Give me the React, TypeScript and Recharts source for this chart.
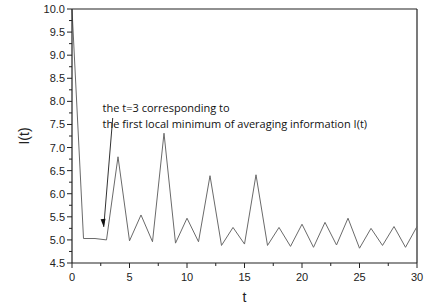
import React from 'react';
import { LineChart, Line, XAxis, YAxis, ReferenceLine, ReferenceDot, Label } from 'recharts';

const tValues = [0, 1, 2, 3, 4, 5, 6, 7, 8, 9, 10, 11, 12, 13, 14, 15, 16, 17, 18, 19, 20, 21, 22, 23, 24, 25, 26, 27, 28, 29, 30];
const iValues = [10.0, 5.03, 5.03, 5.0, 6.8, 4.98, 5.54, 4.96, 7.31, 4.93, 5.47, 4.96, 6.39, 4.88, 5.27, 4.91, 6.41, 4.88, 5.27, 4.86, 5.34, 4.84, 5.38, 4.89, 5.47, 4.82, 5.25, 4.88, 5.29, 4.84, 5.29];
const xMajorTicks = [0, 5, 10, 15, 20, 25, 30];
const xAllTicks = [0, 2.5, 5, 7.5, 10, 12.5, 15, 17.5, 20, 22.5, 25, 27.5, 30];
const yMajorTicks = [4.5, 5.0, 5.5, 6.0, 6.5, 7.0, 7.5, 8.0, 8.5, 9.0, 9.5, 10.0];
const yAllTicks = [4.5, 4.75, 5.0, 5.25, 5.5, 5.75, 6.0, 6.25, 6.5, 6.75, 7.0, 7.25, 7.5, 7.75, 8.0, 8.25, 8.5, 8.75, 9.0, 9.25, 9.5, 9.75, 10.0];
const annotationLines = ['the t=3 corresponding to', 'the first local minimum of averaging information I(t)'];
const arrowStart = { t: 3.54, v: 7.64 };
const arrowEnd = { t: 2.76, v: 5.28 };
const textAnchor = { t: 2.66, v: 7.77 };

const data = tValues.map((t, i) => ({ t, v: iValues[i] }));

const AXIS = '#222';
const tickFont = { fontFamily: '"Liberation Sans", Arial, sans-serif', fontSize: 11, fill: '#222' };

const isMajor = (arr: number[], v: number) => arr.some((m) => Math.abs(m - v) < 1e-6);

const YTick = (props: any) => {
  const { x, y, payload } = props;
  const major = isMajor(yMajorTicks, payload.value);
  return (
    <g>
      <line x1={x} x2={x - (major ? 5 : 3)} y1={y} y2={y} stroke={AXIS} strokeWidth={1} />
      {major && (
        <text x={x - 7} y={y + 4} textAnchor="end" {...tickFont}>
          {payload.value.toFixed(1)}
        </text>
      )}
    </g>
  );
};

const XTick = (props: any) => {
  const { x, y, payload } = props;
  const major = isMajor(xMajorTicks, payload.value);
  return (
    <g>
      <line x1={x} x2={x} y1={y} y2={y + (major ? 5 : 3)} stroke={AXIS} strokeWidth={1} />
      {major && (
        <text x={x} y={y + 18} textAnchor="middle" {...tickFont}>
          {payload.value}
        </text>
      )}
    </g>
  );
};

const AnnotationText = (props: any) => {
  const { cx, cy } = props;
  return (
    <text x={cx} y={cy} fontFamily='"Open Sans", sans-serif' fontSize={11} fill="#111">
      {annotationLines.map((l, i) => (
        <tspan key={i} x={cx} dy={i === 0 ? 0 : 16}>
          {l}
        </tspan>
      ))}
    </text>
  );
};

const ArrowHead = (props: any) => {
  const { cx, cy } = props;
  const dx = -9, dy = -109;
  const len = Math.sqrt(dx * dx + dy * dy);
  const ux = dx / len, uy = dy / len;
  const L = 8, W = 2.5;
  const bx = cx + ux * L, by = cy + uy * L;
  const px = -uy, py = ux;
  const pts = `${cx},${cy} ${bx + px * W},${by + py * W} ${bx - px * W},${by - py * W}`;
  return <polygon points={pts} fill="#111" />;
};

export default function App() {
  return (
    <div style={{ position: 'absolute', left: 0, top: 0, background: '#fff' }}>
      <LineChart width={425} height={306} data={data} margin={{ top: 9, right: 8, bottom: 0, left: 0 }}>
        <XAxis
          dataKey="t"
          type="number"
          domain={[0, 30]}
          ticks={xAllTicks}
          interval={0}
          tickSize={0}
          tickMargin={0}
          tick={<XTick />}
          axisLine={{ stroke: AXIS, strokeWidth: 1.2 }}
          height={43}
        >
          <Label value="t" position="insideBottom" offset={4} style={{ fontFamily: '"Liberation Sans", Arial, sans-serif', fontSize: 14, fill: '#222' }} />
        </XAxis>
        <YAxis
          type="number"
          domain={[4.5, 10]}
          ticks={yAllTicks}
          interval={0}
          tickSize={0}
          tickMargin={0}
          tick={<YTick />}
          axisLine={{ stroke: AXIS, strokeWidth: 1.2 }}
          width={72}
          allowDataOverflow
        >
          <Label value="I(t)" angle={-90} position="insideLeft" offset={24} style={{ fontFamily: '"Liberation Sans", Arial, sans-serif', fontSize: 14, fill: '#222', textAnchor: 'middle' }} />
        </YAxis>
        <ReferenceLine y={10} stroke={AXIS} strokeWidth={1.2} />
        <ReferenceLine x={30} stroke={AXIS} strokeWidth={1.2} />
        <Line type="linear" dataKey="v" stroke="#6a6a6a" strokeWidth={1} dot={false} isAnimationActive={false} />
        <ReferenceLine
          segment={[{ x: arrowStart.t, y: arrowStart.v }, { x: arrowEnd.t, y: arrowEnd.v }]}
          stroke="#333"
          strokeWidth={1}
        />
        <ReferenceDot x={arrowEnd.t} y={arrowEnd.v} r={0} shape={<ArrowHead />} />
        <ReferenceDot x={textAnchor.t} y={textAnchor.v} r={0} shape={<AnnotationText />} />
      </LineChart>
    </div>
  );
}
